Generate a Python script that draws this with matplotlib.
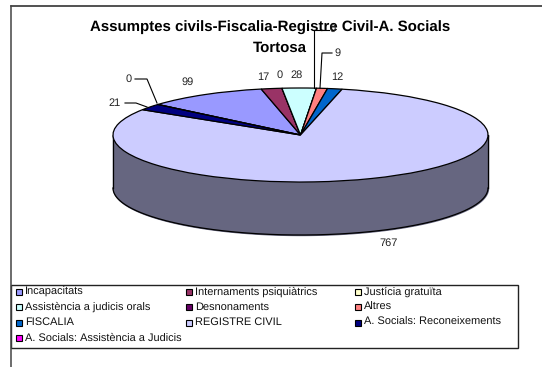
import numpy as np
import matplotlib.pyplot as plt
from matplotlib.patches import Rectangle

plt.rcParams["font.family"] = ["Liberation Sans", "DejaVu Sans"]
plt.rcParams["text.hinting"] = "no_hinting"
plt.rcParams["text.hinting_factor"] = 1

W, H = 542, 367
TITLE_1 = "Assumptes civils-Fiscalia-Registre Civil-A. Socials"
TITLE_2 = "Tortosa"

categories = ["Incapacitats", "Internaments psiquiàtrics", "Justícia gratuïta",
              "Assistència a judicis orals", "Desnonaments", "Altres",
              "FISCALIA", "REGISTRE CIVIL", "A. Socials: Reconeixements",
              "A. Socials: Assistència a Judicis"]
values = [99, 17, 0, 28, 0, 9, 12, 767, 21, 0]
colors = ["#9999FF", "#993366", "#FFFFCC", "#CCFFFF", "#660066",
          "#FF8080", "#0066CC", "#CCCCFF", "#000080", "#FF00FF"]
side_color = "#666680"

# pixel positions of the value labels, same order as values
label_xy = [(188, 82), (263, 77), (280, 75), (297, 75), (333, 29),
            (338, 53), (337, 77), (389, 243), (115, 103), (129, 79)]
leaders = [
    ([314, 314, 329], [88, 30, 30]),
    ([320, 322, 332], [88, 53, 53]),
    ([147, 136, 125], [107, 103, 103]),
    ([157, 147, 135], [103, 79, 79]),
]

fig = plt.figure(figsize=(W / 100, H / 100), dpi=100)

# pixel overlay for frame, labels and legend
bg = fig.add_axes([0, 0, 1, 1], zorder=3)
bg.set_xlim(0, W)
bg.set_ylim(H, 0)
bg.axis("off")
bg.patch.set_alpha(0)

# pie: axes box is the top ellipse, squashed by turning off equal aspect
cx, cy, rx, ry, depth = 300.5, 135, 187.5, 47, 53
ax = fig.add_axes([(cx - rx) / W, 1 - (cy + ry) / H, 2 * rx / W, 2 * ry / H], zorder=2)
ax.pie(values, colors=colors, startangle=139.5, counterclock=False, radius=1,
       wedgeprops={"edgecolor": "black", "linewidth": 0.9, "clip_on": False})
ax.set_aspect("auto")
ax.set_xlim(-1, 1)
ax.set_ylim(-1, 1)
ax.axis("off")

t = np.linspace(np.pi, 2 * np.pi, 200)
d = depth / ry
side_x = np.cos(t)
ax.fill_between(side_x, np.sin(t), np.sin(t) - d, color=side_color, zorder=0, clip_on=False)
ax.plot(side_x, np.sin(t) - d, color="black", lw=0.9, clip_on=False, zorder=0.5)
ax.plot([-1, -1], [0, -d], color="black", lw=0.9, clip_on=False, zorder=0.5)
ax.plot([1, 1], [0, -d], color="black", lw=0.9, clip_on=False, zorder=0.5)

# outer frame (only top and left are visible)
bg.plot([10.5, W], [6, 6], color="#222222", lw=1.1)
bg.plot([10.5, 10.5], [6, H], color="#444444", lw=1.1)

bg.text(270, 27.5, TITLE_1, ha="center", va="center", fontsize=10.8, fontweight="bold", color="black")
bg.text(280, 48, TITLE_2, ha="center", va="center", fontsize=10.8, fontweight="bold", color="black")

for v, (x, y) in zip(values, label_xy):
    bg.text(x, y, str(v), ha="center", va="center", fontsize=8, color="#222222")
for xs, ys in leaders:
    bg.plot(xs, ys, color="black", lw=0.8)

# legend box
bg.add_patch(Rectangle((10.5, 285), 507.5, 63, fc="white", ec="#222222", lw=1))
col_x = [16, 186, 355]
row_y = [291, 306, 321.5, 337]
for i, (name, c) in enumerate(zip(categories, colors)):
    x = col_x[i % 3]
    y = row_y[i // 3]
    bg.add_patch(Rectangle((x, y - 2), 6, 6, fc=c, ec="black", lw=0.8))
    bg.text(x + 9, y + 3.5, name, ha="left", va="baseline", fontsize=7.6, color="#111111")

fig.savefig("out.png", dpi=100)
